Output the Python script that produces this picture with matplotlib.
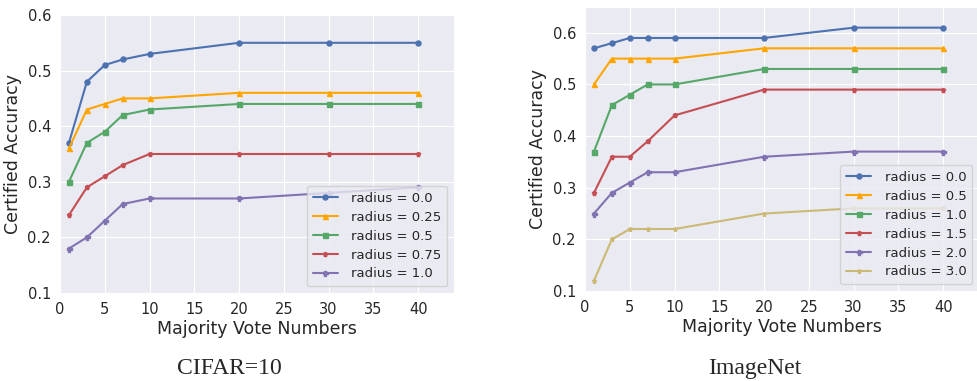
import matplotlib
matplotlib.use("Agg")
import matplotlib.pyplot as plt
import seaborn as sns

# data
votes = [1, 3, 5, 7, 10, 20, 30, 40]

cifar_radius = ["0.0", "0.25", "0.5", "0.75", "1.0"]
cifar_r000 = [0.37, 0.48, 0.51, 0.52, 0.53, 0.55, 0.55, 0.55]
cifar_r025 = [0.36, 0.43, 0.44, 0.45, 0.45, 0.46, 0.46, 0.46]
cifar_r050 = [0.30, 0.37, 0.39, 0.42, 0.43, 0.44, 0.44, 0.44]
cifar_r075 = [0.24, 0.29, 0.31, 0.33, 0.35, 0.35, 0.35, 0.35]
cifar_r100 = [0.18, 0.20, 0.23, 0.26, 0.27, 0.27, 0.28, 0.29]

imagenet_radius = ["0.0", "0.5", "1.0", "1.5", "2.0", "3.0"]
imnet_r00 = [0.57, 0.58, 0.59, 0.59, 0.59, 0.59, 0.61, 0.61]
imnet_r05 = [0.50, 0.55, 0.55, 0.55, 0.55, 0.57, 0.57, 0.57]
imnet_r10 = [0.37, 0.46, 0.48, 0.50, 0.50, 0.53, 0.53, 0.53]
imnet_r15 = [0.29, 0.36, 0.36, 0.39, 0.44, 0.49, 0.49, 0.49]
imnet_r20 = [0.25, 0.29, 0.31, 0.33, 0.33, 0.36, 0.37, 0.37]
imnet_r30 = [0.12, 0.20, 0.22, 0.22, 0.22, 0.25, 0.26, 0.26]

sns.set_style("darkgrid")
plt.rcParams['font.family'] = ['DejaVu Sans']

colors = ["#4C72B0", "orange", "#55A868", "#C44E52", "#8172B2", "#CCB974"]
markers = ["o", "^", "s", "p", "P", "*"]

fig = plt.figure(figsize=(9.77, 3.81), dpi=100)
ax1 = fig.add_axes([60 / 977, 88 / 381, 394 / 977, 278 / 381])
ax2 = fig.add_axes([585 / 977, 90 / 381, 394 / 977, 284 / 381])

cifar_series = [cifar_r000, cifar_r025, cifar_r050, cifar_r075, cifar_r100]
for i, (r, ys) in enumerate(zip(cifar_radius, cifar_series)):
    ax1.plot(votes, ys, color=colors[i], marker=markers[i], markersize=3.6,
             linewidth=1.5, label=f"radius = {r}")

imnet_series = [imnet_r00, imnet_r05, imnet_r10, imnet_r15, imnet_r20, imnet_r30]
for i, (r, ys) in enumerate(zip(imagenet_radius, imnet_series)):
    ax2.plot(votes, ys, color=colors[i], marker=markers[i], markersize=3.6,
             linewidth=1.5, label=f"radius = {r}")

ax1.set_ylim(0.1, 0.6)
ax2.set_ylim(0.1, 0.65)
for ax in (ax1, ax2):
    ax.set_xlim(0, 44)
    ax.set_xticks(range(0, 41, 5))
    ax.set_yticks([0.1, 0.2, 0.3, 0.4, 0.5, 0.6])
    ax.tick_params(labelsize=10.5, pad=3)
    ax.set_xlabel("Majority Vote Numbers", fontsize=12.5, labelpad=2)
    ax.set_ylabel("Certified Accuracy", fontsize=12.5, labelpad=4)
    ax.legend(loc="lower right", fontsize=9.5, handlelength=1.9,
              labelspacing=0.45, borderpad=0.45, handletextpad=1.0)

fig.text(229 / 977, 7 / 381, "CIFAR=10", family="Liberation Serif",
         fontsize=17, ha="center", va="baseline")
fig.text(755 / 977, 7 / 381, "ImageNet", family="Liberation Serif",
         fontsize=17, ha="center", va="baseline")

fig.savefig("out.png", dpi=100)
